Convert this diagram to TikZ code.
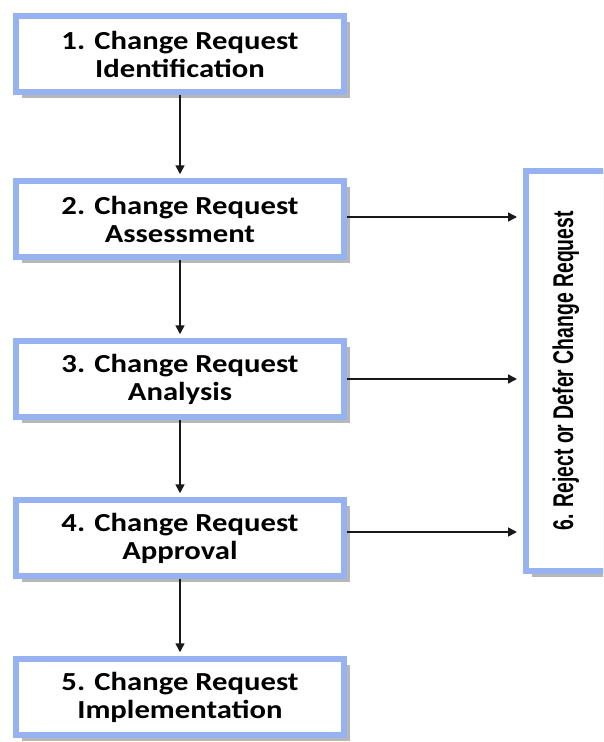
\documentclass[tikz,border=0pt]{standalone}
\usepackage{fontspec}
\usetikzlibrary{arrows.meta,shadows}
\newfontfamily\boxfont[FakeStretch=1.18]{Carlito}
\newfontfamily\sidefont[FakeStretch=0.68]{Liberation Sans}
\definecolor{bordblue}{RGB}{150,178,240}
\definecolor{arrowc}{RGB}{25,25,25}
\tikzset{
  boxshadow/.style={drop shadow={shadow xshift=5.5pt, shadow yshift=-5.5pt, fill=black!40, opacity=0.7}},
  stepbox/.style={draw=bordblue, line width=5.5pt, fill=white,
    minimum width=328pt, minimum height=76pt, align=center,
    font=\boxfont\bfseries\fontsize{26}{30}\selectfont, boxshadow},
  sidebox/.style={draw=bordblue, line width=6pt, fill=white,
    minimum width=140pt, minimum height=400pt, boxshadow},
  flow/.style={draw=arrowc, line width=1.6pt, -{Triangle[length=9pt,width=9pt]}}
}
\begin{document}
\begin{tikzpicture}[x=1pt,y=-1pt]
\useasboundingbox (0,0) rectangle (603,742);
\clip (0,0) rectangle (603,742);
\node[stepbox] (b1) at (180,54) {1. Change Request\\[-2pt]Identification};
\node[stepbox] (b2) at (180,219) {2. Change Request\\[-2pt]Assessment};
\node[stepbox] (b3) at (180,379) {3. Change Request\\[-2pt]Analysis};
\node[stepbox] (b4) at (180,538) {4. Change Request\\[-2pt]Approval};
\node[stepbox] (b5) at (180,697) {5. Change Request\\[-2pt]Implementation};
\node[sidebox] (b6) at (596,371) {};
\node[rotate=90, anchor=base, font=\sidefont\bfseries\fontsize{28.5}{32}\selectfont] (t6) at (573,371) {6. Reject or Defer Change Request};
\coordinate (s2) at ([yshift=2pt]b2.east);
\coordinate (s3) at (b3.east);
\coordinate (s4) at ([yshift=6pt]b4.east);
\draw[flow, shorten >=4pt] (b1.south) -- (b2.north);
\draw[flow, shorten >=4pt] (b2.south) -- (b3.north);
\draw[flow, shorten >=4pt] (b3.south) -- (b4.north);
\draw[flow, shorten >=4pt] (b4.south) -- (b5.north);
\draw[flow, shorten >=6pt] (s2) -- (b6.west |- s2);
\draw[flow, shorten >=6pt] (s3) -- (b6.west |- s3);
\draw[flow, shorten >=6pt] (s4) -- (b6.west |- s4);
\end{tikzpicture}
\end{document}
